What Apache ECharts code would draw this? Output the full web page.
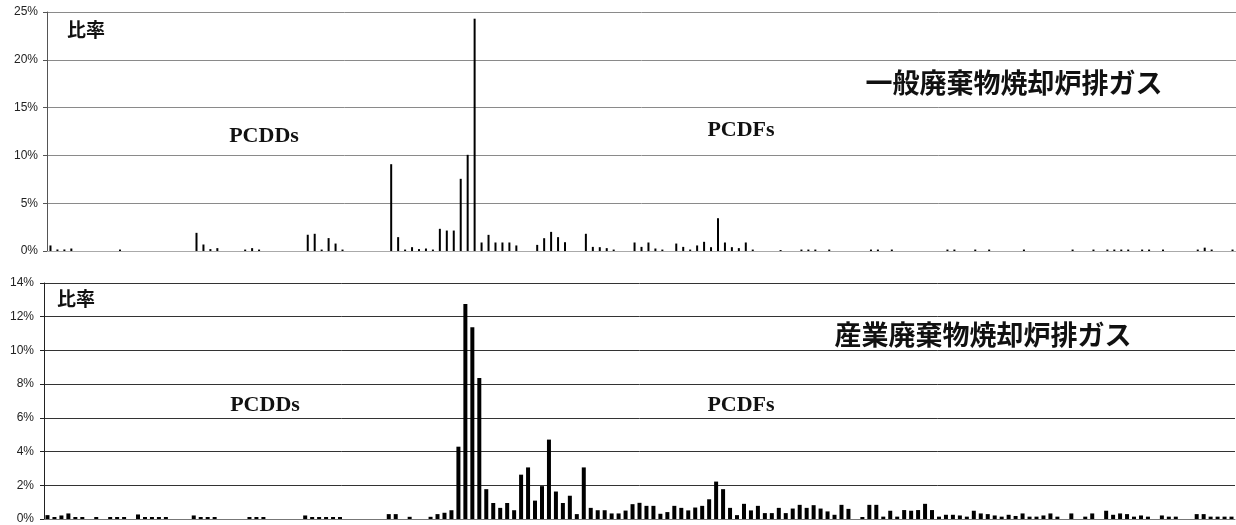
<!DOCTYPE html>
<html>
<head>
<meta charset="utf-8">
<script src="https://cdn.jsdelivr.net/npm/echarts@6/dist/echarts.min.js"></script>
<style>
  html, body { margin: 0; padding: 0; background: #fff; }
  #chart { width: 1236px; height: 525px; }
</style>
</head>
<body>
<div id="chart"></div>
<script>
// 異性体ごとの比率（%）
const congeners = Array.from({ length: 171 }, (_, i) => String(i + 1));

// 一般廃棄物焼却炉排ガス
const generalWaste = [
  0.58, 0.16, 0.16, 0.26, 0, 0, 0, 0, 0, 0,
  0.15, 0, 0, 0, 0, 0, 0, 0, 0, 0,
  0, 1.9, 0.68, 0.2, 0.3, 0, 0, 0, 0.15, 0.3,
  0.15, 0, 0, 0, 0, 0, 0, 1.7, 1.8, 0.15,
  1.35, 0.78, 0.15, 0, 0, 0, 0, 0, 0, 9.08,
  1.45, 0.15, 0.4, 0.2, 0.26, 0.15, 2.32, 2.14, 2.14, 7.55,
  10.06, 24.3, 0.89, 1.69, 0.89, 0.89, 0.89, 0.58, 0, 0,
  0.64, 1.34, 2.0, 1.45, 0.92, 0, 0, 1.8, 0.43, 0.4,
  0.3, 0.15, 0, 0, 0.89, 0.43, 0.89, 0.26, 0.15, 0,
  0.78, 0.43, 0.15, 0.58, 0.96, 0.4, 3.43, 0.89, 0.4, 0.3,
  0.89, 0.15, 0, 0, 0, 0.1, 0, 0, 0.15, 0.15,
  0.15, 0, 0.15, 0, 0, 0, 0, 0, 0.15, 0.15,
  0, 0.15, 0, 0, 0, 0, 0, 0, 0, 0.15,
  0.15, 0, 0, 0.15, 0, 0.15, 0, 0, 0, 0,
  0.15, 0, 0, 0, 0, 0, 0, 0.15, 0, 0,
  0.15, 0, 0.15, 0.15, 0.15, 0.15, 0, 0.15, 0.15, 0,
  0.15, 0, 0, 0, 0, 0.15, 0.35, 0.15, 0, 0,
  0.15
];

// 産業廃棄物焼却炉排ガス
const industrialWaste = [
  0.23, 0.12, 0.21, 0.33, 0.12, 0.12, 0, 0.12, 0, 0.12,
  0.12, 0.12, 0, 0.27, 0.12, 0.12, 0.12, 0.12, 0, 0,
  0, 0.21, 0.12, 0.12, 0.12, 0, 0, 0, 0, 0.12,
  0.12, 0.12, 0, 0, 0, 0, 0, 0.21, 0.12, 0.12,
  0.12, 0.12, 0.12, 0, 0, 0, 0, 0, 0, 0.29,
  0.29, 0, 0.13, 0, 0, 0.13, 0.29, 0.37, 0.52, 4.29,
  12.75, 11.38, 8.36, 1.77, 0.95, 0.66, 0.95, 0.52, 2.63, 3.06,
  1.09, 1.95, 4.71, 1.63, 0.95, 1.38, 0.29, 3.06, 0.66, 0.52,
  0.52, 0.33, 0.33, 0.5, 0.88, 0.96, 0.78, 0.78, 0.31, 0.41,
  0.78, 0.66, 0.51, 0.68, 0.78, 1.17, 2.22, 1.77, 0.66, 0.23,
  0.9, 0.51, 0.78, 0.35, 0.35, 0.66, 0.35, 0.62, 0.84, 0.66,
  0.82, 0.62, 0.45, 0.25, 0.84, 0.6, 0, 0.12, 0.84, 0.84,
  0.14, 0.49, 0.14, 0.53, 0.49, 0.53, 0.9, 0.53, 0.14, 0.25,
  0.25, 0.21, 0.14, 0.49, 0.33, 0.29, 0.21, 0.14, 0.25, 0.18,
  0.33, 0.14, 0.14, 0.21, 0.33, 0.14, 0, 0.33, 0, 0.14,
  0.33, 0, 0.49, 0.25, 0.33, 0.29, 0.14, 0.21, 0.14, 0,
  0.21, 0.14, 0.14, 0, 0, 0.29, 0.29, 0.14, 0.14, 0.14,
  0.14
];

const chart = echarts.init(document.getElementById('chart'));

const labelFont = { fontFamily: 'Liberation Sans', fontSize: 12, color: '#222' };
const serifLabel = { fontFamily: 'Liberation Serif', fontSize: 22, fontWeight: 'bold', fill: '#111' };
const kanjiLabel = { fontFamily: 'Noto Sans CJK JP', fontSize: 19, fontWeight: 'bold', fill: '#111' };
const titleLabel = { fontFamily: 'Noto Sans CJK JP', fontSize: 27, fontWeight: 'bold', fill: '#111' };

function text(x, y, str, style) {
  return { type: 'text', x: x, y: y, style: Object.assign({ text: str, align: 'center', verticalAlign: 'middle' }, style) };
}

chart.setOption({
  animation: false,
  backgroundColor: '#fff',
  grid: [
    { left: 47, top: 12, width: 1189, height: 239 },
    { left: 44, top: 283, width: 1191, height: 239 }
  ],
  xAxis: [
    {
      type: 'category', gridIndex: 0, data: congeners,
      axisLine: { lineStyle: { color: '#aaa', width: 1 } },
      axisTick: { show: false }, axisLabel: { show: false }
    },
    {
      type: 'category', gridIndex: 1, data: congeners,
      axisLine: { lineStyle: { color: '#777', width: 1 } },
      axisTick: { show: false }, axisLabel: { show: false }
    }
  ],
  yAxis: [
    {
      type: 'value', gridIndex: 0, min: 0, max: 25, interval: 5,
      axisLine: { show: true, lineStyle: { color: '#555' } },
      axisTick: { show: true, length: 4, lineStyle: { color: '#555' } },
      axisLabel: Object.assign({ formatter: '{value}%', margin: 9 }, labelFont),
      splitLine: { lineStyle: { color: '#8a8a8a', width: 1 } }
    },
    {
      type: 'value', gridIndex: 1, min: 0, max: 14, interval: 2,
      axisLine: { show: true, lineStyle: { color: '#222' } },
      axisTick: { show: true, length: 4, lineStyle: { color: '#222' } },
      axisLabel: Object.assign({ formatter: '{value}%', margin: 10 }, labelFont),
      splitLine: { lineStyle: { color: '#333', width: 1 } }
    }
  ],
  series: [
    {
      type: 'bar', xAxisIndex: 0, yAxisIndex: 0, data: generalWaste,
      barWidth: 2, itemStyle: { color: '#000' }
    },
    {
      type: 'bar', xAxisIndex: 1, yAxisIndex: 1, data: industrialWaste,
      barWidth: 4, itemStyle: { color: '#000' }
    }
  ],
  graphic: [
    text(86, 30, '比率', kanjiLabel),
    text(264, 136, 'PCDDs', serifLabel),
    text(741, 130, 'PCDFs', serifLabel),
    text(1014, 83, '一般廃棄物焼却炉排ガス', titleLabel),
    text(76, 299, '比率', kanjiLabel),
    text(265, 405, 'PCDDs', serifLabel),
    text(741, 405, 'PCDFs', serifLabel),
    text(983, 335, '産業廃棄物焼却炉排ガス', titleLabel)
  ]
});

window.addEventListener('resize', () => {
  chart.resize();
});
</script>
</body>
</html>
